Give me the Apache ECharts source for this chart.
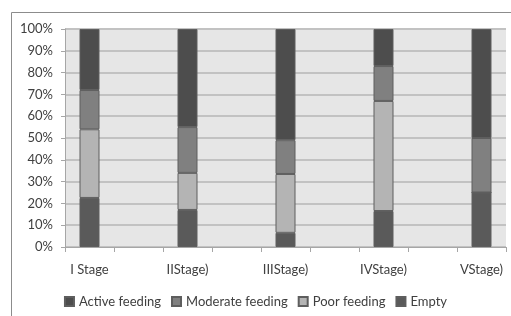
<!DOCTYPE html>
<html>
<head>
<meta charset="utf-8">
<script src="https://cdn.jsdelivr.net/npm/echarts@6/dist/echarts.min.js"></script>
<style>
* { margin: 0; padding: 0; }
html, body { background: #fff; }
#chart { width: 511px; height: 316px; }
</style>
</head>
<body>
<div id="chart"></div>
<script>
// categories: blank slots between stages, like the original sheet
var stages = ["I Stage", "", "IIStage)", "", "IIIStage)", "", "IVStage)", "", "VStage)"];
var legendOrder = ["Active feeding", "Moderate feeding", "Poor feeding", "Empty"];
// values in %, stacked bottom up: Empty, Poor, Moderate, Active
var empty    = [22.5, "-", 17, "-", 6.5, "-", 16.5, "-", 25];
var poor     = [31.5, "-", 17, "-", 27,  "-", 50.5, "-", 0];
var moderate = [18,   "-", 21, "-", 15.5, "-", 16,  "-", 25];
var active   = [28,   "-", 45, "-", 51,  "-", 17,   "-", 50];

var font = "Lato, 'Open Sans', sans-serif";

function bar(name, data, color) {
  return {
    name: name,
    type: "bar",
    stack: "total",
    barWidth: 20,
    data: data,
    itemStyle: { color: color, borderColor: "#5e5e5e", borderWidth: 1 }
  };
}

var chart = echarts.init(document.getElementById("chart"));
chart.setOption({
  animation: false,
  textStyle: { fontFamily: font },
  graphic: [{
    type: "rect",
    shape: { x: 11.5, y: 12.5, width: 700, height: 500 },
    style: { fill: null, stroke: "#8c8c8c", lineWidth: 1 },
    silent: true
  }],
  grid: { left: 65, right: 5, top: 29, bottom: 69, show: true, backgroundColor: "#e6e6e6", borderWidth: 0 },
  legend: {
    data: legendOrder,
    left: "center",
    top: 290,
    icon: "rect",
    itemWidth: 9,
    itemHeight: 9,
    itemGap: 10,
    textStyle: { fontFamily: font, fontSize: 13, color: "#404040" }
  },
  xAxis: {
    type: "category",
    data: stages,
    axisLine: { lineStyle: { color: "#a6a6a6" } },
    axisTick: { show: true, interval: 0, length: 5, lineStyle: { color: "#a6a6a6" } },
    axisLabel: { interval: 0, margin: 16, fontSize: 13, color: "#404040", fontFamily: font },
    splitLine: { show: false }
  },
  yAxis: {
    type: "value",
    min: 0,
    max: 100,
    interval: 10,
    axisLine: { show: true, lineStyle: { color: "#a6a6a6" } },
    axisTick: { show: true, length: 4, lineStyle: { color: "#a6a6a6" } },
    axisLabel: { formatter: "{value}%", margin: 12, fontSize: 13, color: "#404040", fontFamily: font },
    splitLine: { lineStyle: { color: "#c2c2c2", width: 2 } }
  },
  series: [
    bar("Empty", empty, "#5a5a5a"),
    bar("Poor feeding", poor, "#b4b4b4"),
    bar("Moderate feeding", moderate, "#808080"),
    bar("Active feeding", active, "#4d4d4d")
  ]
});
</script>
</body>
</html>
